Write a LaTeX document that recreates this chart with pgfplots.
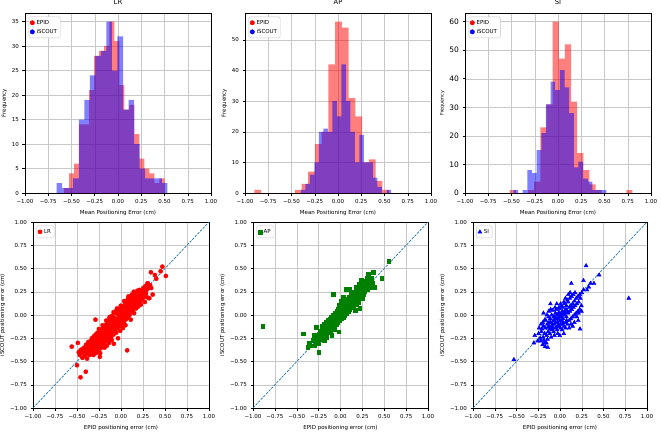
\documentclass[border=0pt]{standalone}
\usepackage{fontspec}
\setmainfont{DejaVu Sans}
\usepackage{pgfplots}
\pgfplotsset{compat=1.18}
\definecolor{mplblue}{HTML}{1F77B4}
\definecolor{gridc}{HTML}{C8C8C8}
\definecolor{mplgreen}{HTML}{008000}
\pgfplotsset{
 base/.style={scale only axis, anchor=south west, xmin=-1, xmax=1,
   xtick={-1,-0.75,-0.5,-0.25,0,0.25,0.5,0.75,1},
   xticklabels={−1.00,−0.75,−0.50,−0.25,0.00,0.25,0.50,0.75,1.00},
   grid=major, grid style={gridc, line width=0.4pt},
   axis line style={line width=0.5pt},
   every tick/.style={black, line width=0.5pt},
   tick align=outside, major tick length=2.5pt, tick pos=left,
   ticklabel style={font=\fontsize{5.5}{6.5}\selectfont},
   label style={font=\fontsize{5.5}{6.5}\selectfont},
   title style={font=\fontsize{6.8}{7.5}\selectfont, yshift=-1.5pt},
   /pgf/number format/assume math mode=true,
   legend style={font=\fontsize{5.5}{6.5}\selectfont, draw=gridc, rounded corners=1.5pt,
     at={(0.02,0.98)}, anchor=north west, inner sep=1.2pt, row sep=-0.5pt},
   legend cell align=left,
 },
 hist/.style={base, width=186pt, height=180pt, ymin=0, ylabel={Frequency},
   xlabel={Mean Positioning Error (cm)}, ylabel shift=-2pt},
 scat/.style={base, height=186pt, ymin=-1, ymax=1,
   ytick={-1,-0.75,-0.5,-0.25,0,0.25,0.5,0.75,1},
   yticklabels={−1.00,−0.75,−0.50,−0.25,0.00,0.25,0.50,0.75,1.00},
   xlabel={EPID positioning error (cm)}, ylabel={iSCOUT positioning error (cm)},
   ylabel shift=-2pt},
 epid/.style={ybar interval, fill=red, fill opacity=0.5, draw=none, forget plot},
 iscout/.style={ybar interval, fill=blue, fill opacity=0.5, draw=none, forget plot},
 diag/.style={mplblue, dash pattern=on 2.6pt off 1.2pt, line width=0.7pt, forget plot},
}
\begin{document}
\begin{tikzpicture}
\useasboundingbox (0,0) rectangle (661pt,432pt);
% ---------------- LR histogram
\begin{axis}[hist, at={(25pt,239pt)}, ymax=36.75, ytick={0,5,10,15,20,25,30,35}, title={LR}]
\addplot[epid] coordinates {(-0.58,1)(-0.526,4)(-0.472,6)(-0.418,14)(-0.364,14)(-0.31,21)(-0.256,28)(-0.202,29)(-0.148,30)(-0.094,35)(-0.04,31)(0.014,22)(0.068,17)(0.122,18)(0.176,12)(0.23,7)(0.284,5)(0.338,4)(0.392,2)(0.446,3)(0.50,3)};
\addplot[iscout] coordinates {(-0.66,2)(-0.6005,1)(-0.541,1)(-0.4815,3)(-0.422,15)(-0.3625,19)(-0.303,24)(-0.2435,28)(-0.184,29)(-0.1245,35)(-0.065,25)(-0.0055,32)(0.054,17)(0.1135,19)(0.173,10)(0.2325,5)(0.292,3)(0.3515,3)(0.411,3)(0.4705,2)(0.53,2)};
\addlegendimage{only marks, mark=*, red, mark size=2.2pt}\addlegendentry{EPID}
\addlegendimage{only marks, mark=*, blue, mark size=2.2pt}\addlegendentry{iSCOUT}
\end{axis}
% ---------------- AP histogram
\begin{axis}[hist, at={(245pt,239pt)}, ymax=58.8, ytick={0,10,20,30,40,50}, title={AP}]
\addplot[epid] coordinates {(-0.90,1)(-0.8275,0)(-0.755,0)(-0.6825,0)(-0.61,0)(-0.5375,0)(-0.465,1)(-0.3925,3)(-0.32,7)(-0.2475,16)(-0.175,20)(-0.1025,42)(-0.03,56)(0.0425,54)(0.115,31)(0.1875,25)(0.26,10)(0.3325,11)(0.405,4)(0.4775,1)(0.55,1)};
\addplot[iscout] coordinates {(-0.40,1)(-0.3515,3)(-0.303,6)(-0.2545,10)(-0.206,20)(-0.1575,21)(-0.109,20)(-0.0605,30)(-0.012,25)(0.0365,42)(0.085,30)(0.1335,20)(0.182,10)(0.2305,19)(0.279,10)(0.3275,10)(0.376,5)(0.4245,2)(0.473,0)(0.5215,1)(0.57,1)};
\addlegendimage{only marks, mark=*, red, mark size=2.2pt}\addlegendentry{EPID}
\addlegendimage{only marks, mark=*, blue, mark size=2.2pt}\addlegendentry{iSCOUT}
\end{axis}
% ---------------- SI histogram
\begin{axis}[hist, at={(465pt,239pt)}, ymax=63, ytick={0,10,20,30,40,50,60}, title={SI},
  yticklabel style={font=\fontsize{7.5}{8.5}\selectfont}, ylabel style={font=\fontsize{4.8}{5.5}\selectfont}]
\addplot[epid] coordinates {(-0.52,1)(-0.454,0)(-0.388,0)(-0.322,1)(-0.256,4)(-0.19,23)(-0.124,31)(-0.058,60)(0.008,47)(0.074,52)(0.14,32)(0.206,14)(0.272,8)(0.338,3)(0.404,1)(0.47,0)(0.536,0)(0.602,0)(0.668,0)(0.734,1)(0.80,1)};
\addplot[iscout] coordinates {(-0.48,1)(-0.43,0)(-0.38,1)(-0.33,8)(-0.28,7)(-0.23,15)(-0.18,21)(-0.13,31)(-0.08,39)(-0.03,36)(0.02,43)(0.07,37)(0.12,28)(0.17,9)(0.22,11)(0.27,5)(0.32,4)(0.37,1)(0.42,1)(0.47,1)(0.52,1)};
\addlegendimage{only marks, mark=*, red, mark size=2.2pt}\addlegendentry{EPID}
\addlegendimage{only marks, mark=*, blue, mark size=2.2pt}\addlegendentry{iSCOUT}
\end{axis}
% ---------------- LR scatter
\begin{axis}[scat, at={(33pt,24pt)}, width=176pt]
\addplot[only marks, mark=*, red, mark size=2.1pt] coordinates {
(-0.56,-0.34)(-0.49,-0.30)(-0.50,-0.54)(-0.46,-0.67)(-0.40,-0.61)(-0.48,-0.40)(-0.29,-0.05)(-0.24,-0.45)(0.07,-0.38)
(0.47,0.52)(0.51,0.42)(0.34,0.46)(0.385,0.43)(0.40,0.39)(0.36,0.22)(0.30,0.34)(0.26,0.29)(0.45,0.47)(-0.47,-0.43)(-0.46,-0.38)
(-0.452,-0.41)(-0.447,-0.37)(-0.438,-0.46)(-0.425,-0.39)(-0.418,-0.35)(-0.411,-0.44)(-0.404,-0.38)(-0.397,-0.32)(-0.393,-0.42)
(-0.386,-0.47)(-0.381,-0.36)(-0.377,-0.40)(-0.372,-0.29)(-0.366,-0.34)(-0.361,-0.38)(-0.356,-0.43)(-0.351,-0.31)(-0.345,-0.28)
(-0.342,-0.37)(-0.336,-0.41)(-0.331,-0.25)(-0.327,-0.29)(-0.322,-0.34)(-0.318,-0.39)(-0.313,-0.43)(-0.309,-0.23)(-0.303,-0.27)
(-0.298,-0.32)(-0.294,-0.36)(-0.289,-0.21)(-0.285,-0.41)(-0.279,-0.24)(-0.276,-0.31)(-0.271,-0.35)(-0.267,-0.19)(-0.263,-0.38)
(-0.258,-0.22)(-0.254,-0.28)(-0.249,-0.33)(-0.246,-0.37)(-0.241,-0.17)(-0.237,-0.41)(-0.233,-0.21)(-0.229,-0.26)(-0.224,-0.30)
(-0.219,-0.35)(-0.216,-0.15)(-0.212,-0.27)(-0.207,-0.19)(-0.203,-0.23)(-0.198,-0.29)(-0.194,-0.31)(-0.191,-0.12)(-0.186,-0.35)
(-0.182,-0.21)(-0.178,-0.16)(-0.173,-0.25)(-0.169,-0.28)(-0.165,-0.10)(-0.161,-0.33)(-0.157,-0.18)(-0.152,-0.13)(-0.148,-0.23)
(-0.144,-0.26)(-0.139,-0.07)(-0.136,-0.30)(-0.131,-0.03)(-0.127,-0.16)(-0.123,-0.11)(-0.118,-0.20)(-0.114,-0.24)(-0.109,-0.05)
(-0.106,-0.27)(-0.102,-0.01)(-0.097,-0.14)(-0.093,-0.09)(-0.089,-0.18)(-0.085,-0.21)(-0.081,-0.31)(-0.076,-0.03)(-0.072,-0.12)
(-0.068,-0.07)(-0.064,-0.16)(-0.059,0.02)(-0.055,-0.19)(-0.052,0.05)(-0.047,-0.10)(-0.043,-0.05)(-0.039,-0.14)(-0.034,-0.25)
(-0.031,0.00)(-0.026,-0.08)(-0.022,-0.03)(-0.018,-0.12)(-0.013,0.04)(-0.009,-0.17)(-0.005,-0.06)(-0.001,0.07)(0.004,-0.01)
(0.008,-0.10)(0.012,-0.04)(0.017,0.03)(0.021,-0.14)(0.025,0.08)(0.029,0.01)(0.034,-0.07)(0.038,-0.02)(0.042,0.11)(0.046,0.04)
(0.051,-0.11)(0.055,0.00)(0.059,0.07)(0.063,-0.04)(0.067,0.14)(0.072,0.02)(0.076,0.09)(0.081,-0.02)(0.085,0.20)(0.089,0.05)
(0.093,0.12)(0.097,0.00)(0.102,0.16)(0.106,0.08)(0.111,-0.05)(0.115,0.13)(0.119,0.04)(0.123,0.22)(0.128,0.10)(0.132,0.17)
(0.136,0.06)(0.141,0.13)(0.145,0.25)(0.149,0.02)(0.154,0.19)(0.158,0.10)(0.163,0.15)(0.167,0.23)(0.171,0.07)(0.176,0.17)
(0.181,0.12)(0.185,0.26)(0.189,0.20)(0.194,0.09)(0.198,0.15)(0.203,0.22)(0.208,0.27)(0.212,0.13)(0.217,0.18)(0.221,0.24)
(0.226,0.11)(0.231,0.20)(0.236,0.26)(0.241,0.16)(0.247,0.22)(0.253,0.29)(0.258,0.19)(0.264,0.25)(0.271,0.14)(0.277,0.31)
(0.283,0.23)(0.291,0.27)(0.298,0.19)(0.306,0.34)(0.314,0.29)(0.322,0.18)(0.331,0.32)(0.343,0.29)
(-0.284,-0.28)(-0.262,-0.26)(-0.238,-0.24)(-0.221,-0.22)(-0.199,-0.20)(-0.176,-0.19)(-0.158,-0.15)(-0.137,-0.14)(-0.116,-0.12)
(-0.094,-0.10)(-0.073,-0.08)(-0.051,-0.06)(-0.029,-0.04)(-0.011,-0.02)(0.007,0.01)(0.027,0.03)(-0.305,-0.35)(-0.268,-0.33)
(-0.226,-0.34)(-0.183,-0.26)(-0.141,-0.21)(-0.108,-0.18)(-0.066,-0.13)(-0.024,-0.09)(0.014,-0.07)(0.048,-0.05)(-0.251,-0.15)
(-0.209,-0.11)(-0.168,-0.06)(-0.126,-0.02)(-0.084,0.03)(-0.045,0.07)(-0.003,0.10)(0.036,0.15)(0.078,0.17)(0.118,0.20)};
\addlegendentry{LR}
\addplot[diag] coordinates {(-1,-1)(1,1)};
\end{axis}
% ---------------- AP scatter
\begin{axis}[scat, at={(253pt,24pt)}, width=175pt]
\addplot[only marks, mark=square*, mplgreen, mark size=1.9pt] coordinates {
(-0.89,-0.12)(-0.43,-0.20)(0.55,0.58)(0.47,0.40)(0.37,0.46)(0.32,0.44)(0.22,0.075)(-0.25,-0.40)(-0.02,-0.18)
(-0.376,-0.35)(-0.357,-0.30)(-0.346,-0.33)(-0.318,-0.27)(-0.303,-0.33)(-0.297,-0.22)(-0.283,-0.28)(-0.279,-0.13)(-0.268,-0.24)
(-0.256,-0.30)(-0.247,-0.20)(-0.236,-0.26)(-0.232,-0.17)(-0.218,-0.22)(-0.214,-0.12)(-0.206,-0.19)(-0.197,-0.25)(-0.193,-0.15)
(-0.186,-0.10)(-0.178,-0.20)(-0.174,-0.14)(-0.183,-0.27)(-0.166,-0.17)(-0.162,-0.08)(-0.157,-0.24)(-0.153,-0.12)(-0.146,-0.15)
(-0.142,-0.06)(-0.137,-0.10)(-0.133,-0.18)(-0.126,-0.13)(-0.123,-0.04)(-0.117,-0.08)(-0.113,-0.16)(-0.106,-0.11)(-0.102,-0.02)
(-0.097,-0.06)(-0.094,-0.14)(-0.101,-0.22)(-0.086,-0.09)(-0.083,0.00)(-0.077,-0.04)(-0.073,-0.12)(-0.081,0.22)(-0.066,-0.07)
(-0.062,0.02)(-0.057,-0.02)(-0.053,-0.10)(-0.046,-0.05)(-0.043,0.04)(-0.037,0.00)(-0.034,-0.08)(-0.027,-0.03)(-0.023,0.06)
(-0.016,0.02)(-0.013,-0.06)(-0.006,-0.01)(-0.003,0.08)(0.004,0.03)(0.007,-0.04)(0.003,0.15)(0.014,0.01)(0.017,0.10)(0.024,0.05)
(0.027,-0.02)(0.033,0.03)(0.036,0.12)(0.043,0.07)(0.046,0.00)(0.053,0.05)(0.056,0.15)(0.063,0.09)(0.066,0.02)(0.061,0.28)
(0.073,0.07)(0.076,0.17)(0.083,0.11)(0.086,0.04)(0.093,0.09)(0.096,0.19)(0.103,0.13)(0.106,0.06)(0.101,0.28)(0.113,0.11)
(0.116,0.21)(0.123,0.15)(0.126,0.08)(0.133,0.13)(0.136,0.23)(0.143,0.17)(0.146,0.10)(0.153,0.15)(0.156,0.25)(0.163,0.19)
(0.166,0.05)(0.173,0.17)(0.176,0.30)(0.183,0.21)(0.186,0.12)(0.193,0.19)(0.196,0.28)(0.203,0.24)(0.206,0.14)(0.213,0.22)
(0.216,0.33)(0.223,0.26)(0.233,0.24)(0.236,0.38)(0.243,0.28)(0.246,0.18)(0.253,0.30)(0.256,0.22)(0.263,0.34)(0.273,0.25)
(0.276,0.36)(0.283,0.30)(0.293,0.34)(0.303,0.28)(0.306,0.40)(0.313,0.33)(0.333,0.36)(0.343,0.30)(0.353,0.40)(0.363,0.34)(0.383,0.30)
(-0.152,-0.19)(-0.128,-0.09)(-0.088,-0.13)(-0.048,-0.01)(-0.018,0.11)(0.012,0.06)(0.041,0.10)(0.071,0.13)(0.098,0.16)(0.131,0.18)
(0.161,0.23)(0.191,0.25)(0.224,0.20)(-0.208,-0.16)(-0.171,-0.11)(-0.067,-0.15)(0.028,0.19)(0.151,0.08)(0.118,0.25)(0.181,0.16)};
\addlegendentry{AP}
\addplot[diag] coordinates {(-1,-1)(1,1)};
\end{axis}
% ---------------- SI scatter
\begin{axis}[scat, at={(473pt,24pt)}, width=174pt]
\addplot[only marks, mark=triangle*, blue, mark size=2.3pt] coordinates {
(-0.53,-0.48)(0.79,0.18)(0.30,0.53)(0.45,0.43)(0.39,0.34)(0.35,0.34)(0.33,0.30)(0.13,0.34)(0.27,0.37)
(0.27,0.27)(0.31,0.27)(0.25,0.24)(0.21,-0.06)(0.23,-0.15)(-0.29,-0.22)(-0.30,-0.30)(-0.24,-0.14)
(-0.22,-0.28)(-0.20,-0.32)(-0.18,-0.30)(-0.17,-0.34)(-0.14,-0.35)(-0.19,0.02)(-0.11,0.12)
(-0.254,-0.28)(-0.246,-0.20)(-0.214,-0.18)(-0.227,-0.25)(-0.218,-0.10)
(-0.194,-0.24)(-0.209,-0.15)(-0.197,-0.08)(-0.176,-0.20)(-0.189,-0.12)(-0.173,-0.05)(-0.185,-0.27)
(-0.154,-0.22)(-0.168,-0.14)(-0.163,-0.06)(-0.151,0.00)(-0.157,-0.30)
(-0.136,-0.18)(-0.147,-0.10)(-0.132,-0.02)(-0.144,-0.26)(-0.138,-0.13)
(-0.117,-0.20)(-0.124,-0.12)(-0.113,-0.04)(-0.129,0.04)(-0.118,-0.15)(-0.126,-0.08)
(-0.094,-0.16)(-0.107,-0.08)(-0.096,0.00)(-0.103,-0.24)(-0.091,-0.12)(-0.108,0.06)
(-0.074,-0.18)(-0.087,-0.10)(-0.073,-0.02)(-0.086,0.05)(-0.077,-0.06)(-0.083,-0.14)
(-0.053,-0.14)(-0.066,-0.06)(-0.052,0.02)(-0.064,-0.22)(-0.057,0.08)(-0.068,-0.10)(-0.061,-0.02)
(-0.033,-0.16)(-0.046,-0.08)(-0.036,0.00)(-0.043,0.06)(-0.032,-0.12)(-0.047,-0.04)(-0.037,0.12)
(-0.016,-0.12)(-0.024,-0.04)(-0.012,0.03)(-0.026,-0.20)(-0.013,0.08)(-0.027,-0.08)(-0.017,0.00)
(0.006,-0.14)(-0.004,-0.06)(0.008,0.01)(-0.006,0.07)(0.004,-0.10)(-0.008,-0.02)(0.007,0.12)(-0.003,-0.22)
(0.026,-0.10)(0.014,-0.02)(0.028,0.04)(0.013,0.10)(0.024,-0.16)(0.012,-0.06)(0.027,0.00)
(0.046,-0.12)(0.034,-0.04)(0.047,0.02)(0.033,0.08)(0.045,0.14)(0.035,-0.08)(0.044,-0.20)
(0.066,-0.08)(0.054,0.00)(0.067,0.06)(0.053,0.12)(0.064,-0.14)(0.056,0.03)(0.063,0.18)
(0.086,-0.10)(0.074,-0.02)(0.087,0.04)(0.073,0.10)(0.085,0.16)(0.076,-0.06)
(0.106,-0.06)(0.094,0.02)(0.107,0.08)(0.093,0.14)(0.105,-0.14)(0.096,0.22)
(0.126,-0.04)(0.114,0.04)(0.127,0.10)(0.113,0.18)(0.125,-0.10)(0.116,0.24)
(0.146,-0.02)(0.134,0.06)(0.147,0.12)(0.133,0.20)(0.145,-0.12)
(0.166,0.00)(0.154,0.08)(0.167,0.15)(0.153,0.22)(0.165,-0.08)
(0.186,0.02)(0.174,0.10)(0.187,0.18)(0.173,0.24)(0.206,0.04)(0.194,0.12)(0.207,0.20)(0.193,-0.02)
(0.226,0.06)(0.214,0.14)(0.227,0.22)(0.213,0.02)(0.246,0.10)(0.234,0.18)(0.247,0.04)};
\addlegendentry{SI}
\addplot[diag] coordinates {(-1,-1)(1,1)};
\end{axis}
\end{tikzpicture}
\end{document}
